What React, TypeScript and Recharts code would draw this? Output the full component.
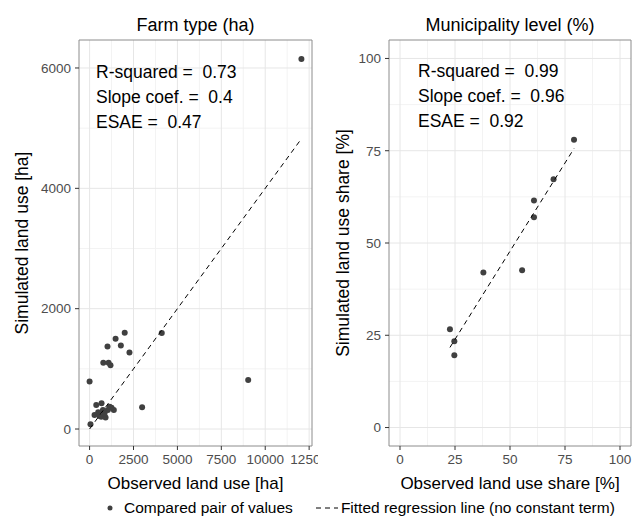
import React from "react";
import { ScatterChart, Scatter, XAxis, YAxis, CartesianGrid, ReferenceArea } from "recharts";

// ---- Data: Farm type (ha) ----
const farmObserved = [0, 50, 2000, 1480, 1020, 1780, 2270, 780, 1080, 1190, 4110, 9030, 2990, 12060, 380, 680, 280, 570, 910, 1140, 1380, 1040, 760, 490, 660, 850, 1250];
const farmSimulated = [790, 80, 1600, 1500, 1370, 1390, 1270, 1100, 1100, 1060, 1595, 815, 360, 6150, 400, 430, 235, 215, 190, 370, 315, 315, 315, 280, 205, 260, 355];
const farmFitX = [0, 12060];
const farmFitY = [0, 4824];
const farmXTicks = [0, 2500, 5000, 7500, 10000, 12500];
const farmXMinor = [1250, 3750, 6250, 8750, 11250];
const farmYTicks = [0, 2000, 4000, 6000];
const farmYMinor = [1000, 3000, 5000];
const farmStats = ["R-squared =  0.73", "Slope coef. =  0.4", "ESAE =  0.47"];

// ---- Data: Municipality level (%) ----
const muniObserved = [22.7, 24.7, 24.7, 37.9, 55.5, 60.9, 60.9, 69.8, 79.1];
const muniSimulated = [26.6, 23.4, 19.6, 42.0, 42.6, 57.0, 61.5, 67.3, 78.0];
const muniFitX = [22.7, 79.1];
const muniFitY = [21.7, 75.6];
const muniTicks = [0, 25, 50, 75, 100];
const muniMinor = [12.5, 37.5, 62.5, 87.5];
const muniStats = ["R-squared =  0.99", "Slope coef. =  0.96", "ESAE =  0.92"];

const FONT = "'Liberation Sans', Arial, Helvetica, sans-serif";
const POINT = "#404040";

const zip = (xs: number[], ys: number[]) => xs.map((x, i) => ({ x, y: ys[i] }));

const Dot = (p: any) => <circle cx={p.cx} cy={p.cy} r={3} fill={POINT} />;
const NoShape = () => <g />;

type PanelProps = {
  width: number;
  yAxisWidth: number;
  rightMargin: number;
  points: { x: number; y: number }[];
  fit: { x: number; y: number }[];
  xDomain: [number, number];
  yDomain: [number, number];
  xTicks: number[];
  yTicks: number[];
  xMinor: number[];
  yMinor: number[];
  xLabel: string;
  yLabel: string;
  yLabelOffset: number;
};

const Panel = (p: PanelProps) => (
  <ScatterChart
    width={p.width}
    height={516}
    margin={{ top: 40, right: p.rightMargin, left: 0, bottom: 14 }}
  >
    <CartesianGrid
      stroke="#f3f3f3"
      horizontalValues={p.yMinor}
      verticalValues={p.xMinor}
    />
    <CartesianGrid
      stroke="#e6e6e6"
      horizontalValues={p.yTicks}
      verticalValues={p.xTicks}
    />
    <XAxis
      type="number"
      dataKey="x"
      domain={p.xDomain}
      ticks={p.xTicks}
      allowDataOverflow
      axisLine={false}
      tickLine={{ stroke: "#333" }}
      tickSize={4}
      tickMargin={4}
      height={56}
      tick={{ fill: "#4d4d4d", fontSize: 13.5, fontFamily: FONT }}
      interval={0}
      label={{ value: p.xLabel, position: "insideBottom", offset: 13, fill: "#000", fontSize: 17, fontFamily: FONT }}
    />
    <YAxis
      type="number"
      dataKey="y"
      domain={p.yDomain}
      ticks={p.yTicks}
      allowDataOverflow
      axisLine={false}
      tickLine={{ stroke: "#333" }}
      tickSize={4}
      tickMargin={4}
      width={p.yAxisWidth}
      tick={{ fill: "#4d4d4d", fontSize: 13.5, fontFamily: FONT }}
      interval={0}
      label={{
        value: p.yLabel,
        angle: -90,
        position: "insideLeft",
        offset: p.yLabelOffset,
        fill: "#000",
        fontSize: 17.5,
        fontFamily: FONT,
        style: { textAnchor: "middle" },
      }}
    />
    <Scatter data={p.points} shape={Dot} isAnimationActive={false} legendType="none" />
    <Scatter
      data={p.fit}
      shape={NoShape}
      line={{ stroke: "#000", strokeWidth: 1, strokeDasharray: "5 4" }}
      isAnimationActive={false}
      legendType="none"
    />
    <ReferenceArea
      x1={p.xDomain[0]}
      x2={p.xDomain[1]}
      y1={p.yDomain[0]}
      y2={p.yDomain[1]}
      fill="none"
      stroke="#8c8c8c"
      strokeWidth={1}
    />
  </ScatterChart>
);

const textBlock = (lines: string[], left: number, top: number) => (
  <div
    style={{
      position: "absolute",
      left,
      top,
      fontSize: 17.5,
      lineHeight: "25px",
      whiteSpace: "pre",
      color: "#000",
      fontFamily: FONT,
    }}
  >
    {lines.map((l) => (
      <div key={l}>{l}</div>
    ))}
  </div>
);

export default function App() {
  return (
    <div
      style={{
        position: "absolute",
        left: 0,
        top: 0,
        width: 633,
        height: 516,
        background: "#fff",
        fontFamily: FONT,
        overflow: "hidden",
      }}
    >
      <div style={{ position: "absolute", left: 0, top: 0 }}>
        <Panel
          width={318}
          yAxisWidth={79}
          rightMargin={6}
          points={zip(farmObserved, farmSimulated)}
          fit={zip(farmFitX, farmFitY)}
          xDomain={[-603, 12663]}
          yDomain={[-282, 6465]}
          xTicks={farmXTicks}
          yTicks={farmYTicks}
          xMinor={farmXMinor}
          yMinor={farmYMinor}
          xLabel="Observed land use [ha]"
          yLabel="Simulated land use [ha]"
          yLabelOffset={22}
        />
      </div>
      <div style={{ position: "absolute", left: 318, top: 0 }}>
        <Panel
          width={315}
          yAxisWidth={71}
          rightMargin={2}
          points={zip(muniObserved, muniSimulated)}
          fit={zip(muniFitX, muniFitY)}
          xDomain={[-5, 105]}
          yDomain={[-5, 105]}
          xTicks={muniTicks}
          yTicks={muniTicks}
          xMinor={muniMinor}
          yMinor={muniMinor}
          xLabel="Observed land use share [%]"
          yLabel="Simulated land use share [%]"
          yLabelOffset={25}
        />
      </div>
      <div style={{ position: "absolute", left: 79, width: 233, top: 15, textAlign: "center", fontSize: 18, color: "#000" }}>
        Farm type (ha)
      </div>
      <div style={{ position: "absolute", left: 389, width: 242, top: 15, textAlign: "center", fontSize: 18, color: "#000" }}>
        Municipality level (%)
      </div>
      {textBlock(farmStats, 96, 60)}
      {textBlock(muniStats, 418, 59)}
      <div
        style={{
          position: "absolute",
          left: 103,
          top: 499,
          fontSize: 15.5,
          lineHeight: "18px",
          color: "#000",
          display: "flex",
          alignItems: "center",
          whiteSpace: "pre",
        }}
      >
        <svg width={14} height={18}>
          <circle cx={7} cy={9} r={2.5} fill={POINT} />
        </svg>
        <span style={{ marginLeft: 7 }}>Compared pair of values</span>
        <svg width={26} height={18} style={{ marginLeft: 22 }}>
          <line x1={1} y1={9} x2={23} y2={9} stroke="#000" strokeWidth={1} strokeDasharray="5 4" />
        </svg>
        <span>Fitted regression line (no constant term)</span>
      </div>
    </div>
  );
}
